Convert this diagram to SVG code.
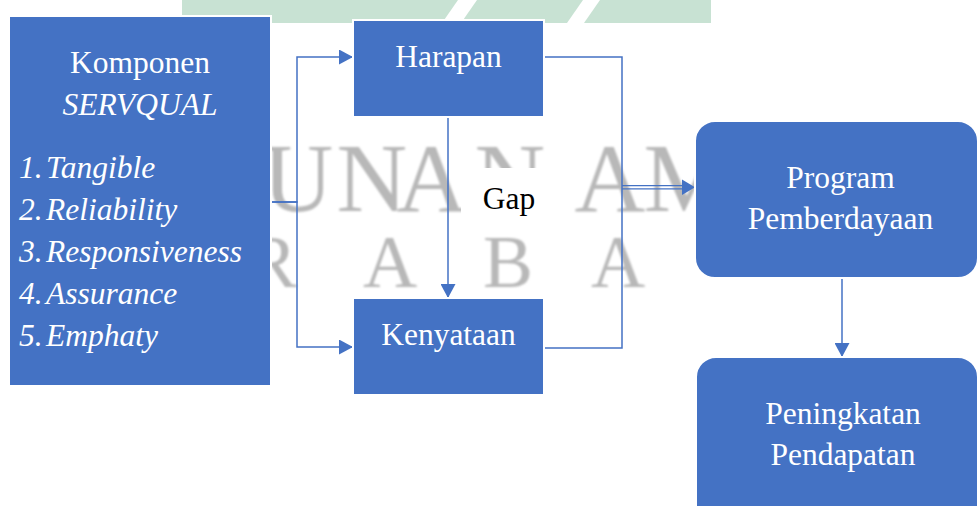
<svg xmlns="http://www.w3.org/2000/svg" width="978" height="506" viewBox="0 0 978 506">
<style>
.box{fill:#4472C4;stroke:#ffffff;stroke-width:2}
.t{font-family:"Liberation Serif","Times New Roman",serif;font-size:31.5px;fill:#ffffff}
.c{text-anchor:middle}
.i{font-style:italic}
.ln{fill:none;stroke:#4472C4;stroke-width:1.5}
.wm{font-family:"Liberation Serif","Times New Roman",serif;fill:#b8b8b8;text-anchor:middle}
</style>
<defs>
<marker id="arr" viewBox="0 0 14 15" refX="14" refY="7.5" markerWidth="14" markerHeight="15" markerUnits="userSpaceOnUse" orient="auto">
<path d="M0,0 L14,7.5 L0,15 z" fill="#4472C4"/>
</marker>
<filter id="blur" x="-10%" y="-10%" width="120%" height="120%"><feGaussianBlur stdDeviation="1.3"/></filter>
</defs>
<rect width="978" height="506" fill="#ffffff"/>
<g id="watermark">
<g fill="#c8e2d3">
<polygon points="182,0 458,0 442,23 182,23"/>
<polygon points="477,0 583,0 567,23 461,23"/>
<polygon points="600,0 711,0 711,23 584,23"/>
</g>
<g filter="url(#blur)">
<text class="wm" font-size="98" x="298 372 432 510 610 687" y="211">UNANAM</text>
<text class="wm" font-size="75" x="272 390 508 618" y="287">RABA</text>
</g>
</g>
<g id="connectors">
<path class="ln" d="M271,202 H297 V57 H353" marker-end="url(#arr)"/>
<path class="ln" d="M271,202 H297 V347 H353" marker-end="url(#arr)"/>
<path class="ln" d="M448,117 V298" marker-end="url(#arr)"/>
<path class="ln" d="M545,57 H622 V348 H545"/>
<line x1="622" y1="185.6" x2="684" y2="185.6" stroke="#4472C4" stroke-width="1.3"/>
<line x1="622" y1="188.8" x2="684" y2="188.8" stroke="#4472C4" stroke-width="1.3"/>
<polygon points="682,179.5 695,187.2 682,195" fill="#4472C4"/>
<path class="ln" d="M842,278 V357" marker-end="url(#arr)"/>
</g>
<g id="gap-label">
<rect x="461" y="168" width="86" height="64" fill="#ffffff"/>
<text x="509" y="209" font-family="'Liberation Serif','Times New Roman',serif" font-size="31.5" fill="#000000" text-anchor="middle">Gap</text>
</g>
<g id="servqual">
<rect class="box" x="9" y="16" width="262" height="370"/>
<text class="t c" x="140" y="73">Komponen</text>
<text class="t c i" x="140" y="115">SERVQUAL</text>
<text class="t i" x="19" y="178">1.</text><text class="t i" x="46" y="178">Tangible</text>
<text class="t i" x="19" y="220">2.</text><text class="t i" x="46" y="220">Reliability</text>
<text class="t i" x="19" y="262">3.</text><text class="t i" x="46" y="262">Responsiveness</text>
<text class="t i" x="19" y="304">4.</text><text class="t i" x="46" y="304">Assurance</text>
<text class="t i" x="19" y="346">5.</text><text class="t i" x="46" y="346">Emphaty</text>
</g>
<g id="harapan">
<rect class="box" x="353" y="20" width="191" height="97"/>
<text class="t c" x="448.5" y="67">Harapan</text>
</g>
<g id="kenyataan">
<rect class="box" x="353" y="298" width="191" height="97"/>
<text class="t c" x="448.5" y="345">Kenyataan</text>
</g>
<g id="program">
<rect class="box" x="695" y="121" width="283" height="157" rx="20"/>
<text class="t c" x="840.5" y="188">Program</text>
<text class="t c" x="840.5" y="229">Pemberdayaan</text>
</g>
<g id="peningkatan">
<rect class="box" x="696" y="357" width="282" height="175" rx="20"/>
<text class="t c" x="843" y="424">Peningkatan</text>
<text class="t c" x="843" y="465">Pendapatan</text>
</g>
</svg>
